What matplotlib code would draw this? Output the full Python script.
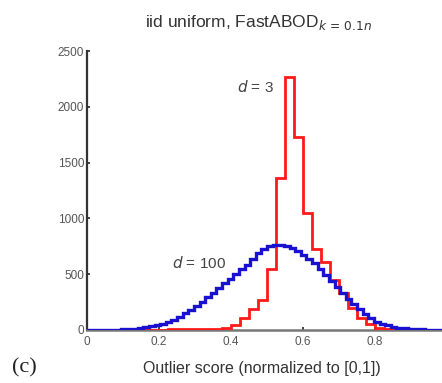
import numpy as np
import matplotlib
matplotlib.use("Agg")
import matplotlib.pyplot as plt

# ---- data ----
red_counts = [0, 0, 0, 0, 0, 0, 0, 0, 4, 5,
              6, 7, 8, 9, 12, 20, 45, 105, 190, 270,
              545, 1360, 2270, 1727, 1045, 723, 612, 448, 330, 200,
              107, 50, 20, 10, 5, 2, 1, 0, 0, 0]
red_edges_n = 40

blue_counts = [0, 0, 0, 1, 2, 3, 5, 8, 12, 18,
               28, 36, 44, 54, 68, 92, 120, 150, 183, 218,
               254, 292, 336, 376, 420, 460, 503, 545, 585, 635,
               690, 728, 752, 762, 760, 753, 735, 712, 675, 640,
               597, 545, 490, 436, 384, 332, 282, 230, 186, 143,
               108, 75, 58, 44, 30, 22, 16, 11, 8, 5,
               3, 2, 1, 1]
blue_edges_n = 64

xticks = [0, 0.2, 0.4, 0.6, 0.8]
xtick_labels = ["0", "0.2", "0.4", "0.6", "0.8"]
yticks = [0, 500, 1000, 1500, 2000, 2500]
ytick_labels = ["0", "500", "1000", "1500", "2000", "2500"]

plt.rcParams['font.family'] = ['Liberation Sans', 'DejaVu Sans']

fig = plt.figure(figsize=(4.42, 3.83), dpi=100)
ax = fig.add_axes([87/442, 1 - 330/383, 360/442, (330 - 51)/383])

red_edges = np.linspace(0, 1, red_edges_n + 1)
blue_edges = np.linspace(0, 1, blue_edges_n + 1)

ax.stairs(red_counts, red_edges, color="#ff1a1a", linewidth=2.0,
          baseline=None, zorder=3)
ax.stairs(blue_counts, blue_edges, color="#1a10d0", linewidth=2.4,
          baseline=None, zorder=4)

ax.set_xlim(0, 1)
ax.set_ylim(0, 2500)
ax.set_xticks(xticks)
ax.set_xticklabels(xtick_labels)
ax.set_yticks(yticks)
ax.set_yticklabels(ytick_labels)
ax.tick_params(direction="in", length=2.5, width=1.2, labelsize=8.5,
               labelcolor="#555555", color="#222222", pad=2)
ax.tick_params(axis="x", pad=4)

for s in ["top", "right"]:
    ax.spines[s].set_visible(False)
ax.spines["left"].set_color("#333333")
ax.spines["left"].set_linewidth(1.6)
ax.spines["bottom"].set_color("#777777")
ax.spines["bottom"].set_linewidth(1.8)

fig.text(262/442, 1 - 368/383, "Outlier score (normalized to [0,1])",
         ha="center", va="center", fontsize=11.5, color="#333333")

fig.text(259/442, 1 - 22/383, r"iid uniform, FastABOD$_{k\,=\,0.1n}$",
         ha="center", va="center", fontsize=12.5, color="#333333")

ax.text(0.418, 2177, r"$d$ = 3", ha="left", va="center", fontsize=11,
        color="#444444", transform=ax.transData)
ax.text(0.236, 600, r"$d$ = 100", ha="left", va="center", fontsize=11,
        color="#444444", transform=ax.transData)

fig.text(12/442, 1 - 368/383, "(c)", ha="left", va="center",
         fontsize=16, family="Liberation Serif", color="#222222")

fig.savefig("out.png", dpi=100)
